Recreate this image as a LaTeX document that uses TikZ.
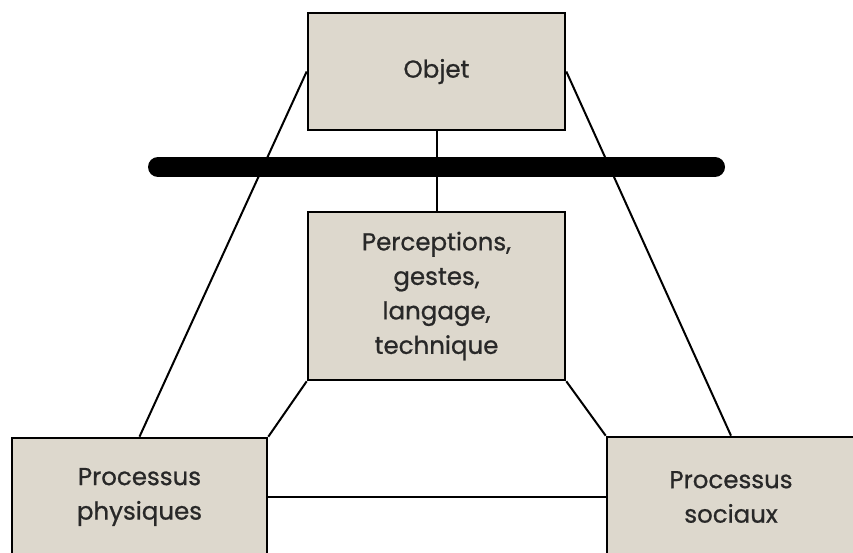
\documentclass[tikz,border=0pt]{standalone}
\usepackage{fontspec}
\setmainfont{Poppins}[FakeBold=0.8]
\usepackage{tikz}
\usetikzlibrary{positioning}

\definecolor{boxfill}{RGB}{221,216,205}
\definecolor{boxtext}{RGB}{40,40,40}

\tikzset{
  pbox/.style={draw=black, line width=2.6pt, fill=boxfill, text=boxtext,
    align=center, font=\fontsize{24.5}{34.5}\selectfont, inner sep=0pt},
  link/.style={draw=black, line width=2pt}
}

\begin{document}
\begin{tikzpicture}[x=1pt,y=1pt,yscale=-1,xscale=1]
\useasboundingbox (0,0) rectangle (853,553);

% Text Node
\node [pbox, minimum width=257pt, minimum height=117pt] (objet) at (436.5,71.5) {Objet};
% Text Node
\node [pbox, minimum width=257pt, minimum height=168pt] (percep) at (436.5,296) {Perceptions,\\gestes,\\langage,\\technique};
% Text Node
\node [pbox, minimum width=255pt, minimum height=118pt] (phys) at (139.5,497) {Processus\\physiques};
% Text Node
\node [pbox, minimum width=248pt, minimum height=120pt] (soc) at (731,497) {Processus\\sociaux};

% Connection
\draw [link] (objet.south) -- (percep.north);
% Barre
\draw [line width=20pt, line cap=round] (158,167) -- (715,167);

% Connection
\draw [link] (objet.west) -- (phys.north);
% Connection
\draw [link] (objet.east) -- (soc.north);
% Connection
\draw [link] (percep.south west) -- (phys.north east);
% Connection
\draw [link] (percep.south east) -- (soc.north west);
% Connection
\draw [link] (phys.east) -- (soc.west);

\end{tikzpicture}
\end{document}
